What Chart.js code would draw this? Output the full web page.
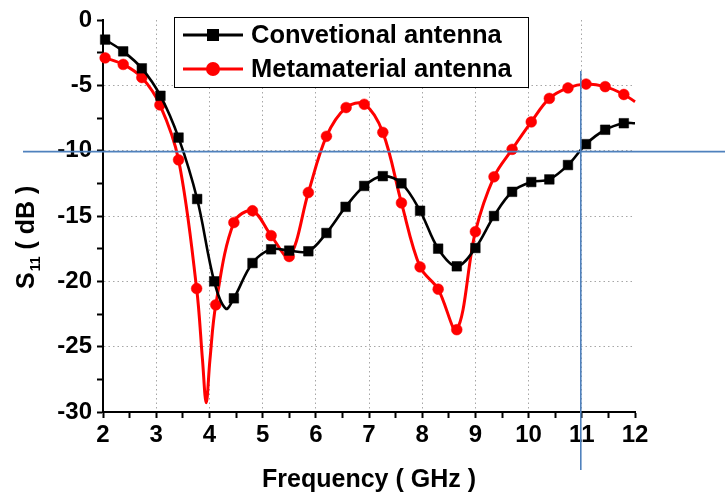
<!DOCTYPE html>
<html>
<head>
<meta charset="utf-8">
<script src="https://cdn.jsdelivr.net/npm/chart.js@4/dist/chart.umd.min.js"></script>
<style>
  html, body { margin: 0; padding: 0; background: #fff; }
  #wrap { width: 725px; height: 497px; }
</style>
</head>
<body>
<div id="wrap"><canvas id="c" width="725" height="497"></canvas></div>
<script>
// Return loss of the two antennas, S11 in dB versus frequency in GHz.
// Sampled points (drawn with markers)
const convFreq = [2.04, 2.38, 2.73, 3.08, 3.42, 3.77, 4.09, 4.46, 4.81, 5.16, 5.50, 5.86, 6.20, 6.56, 6.91,
                  7.26, 7.61, 7.96, 8.30, 8.65, 9.00, 9.35, 9.69, 10.05, 10.39, 10.74, 11.08, 11.44, 11.79];
const convS11  = [-1.5, -2.4, -3.7, -5.8, -9.0, -13.7, -20.0, -21.3, -18.6, -17.55, -17.65, -17.7, -16.3, -14.3, -12.7,
                  -11.95, -12.5, -14.6, -17.5, -18.85, -17.45, -15.0, -13.15, -12.4, -12.2, -11.1, -9.5, -8.4, -7.9];
// Intermediate points of the trace (no marker)
const convCurveFreq = [4.31, 12.0];
const convCurveS11  = [-22.1, -7.9];

const metaFreq = [2.04, 2.38, 2.73, 3.07, 3.42, 3.76, 4.12, 4.46, 4.81, 5.16, 5.50, 5.86, 6.20, 6.57, 6.91,
                  7.26, 7.61, 7.96, 8.30, 8.65, 9.00, 9.35, 9.69, 10.05, 10.39, 10.74, 11.08, 11.44, 11.79];
const metaS11  = [-2.9, -3.4, -4.4, -6.5, -10.7, -20.55, -21.8, -15.5, -14.6, -16.5, -18.1, -13.2, -8.9, -6.7, -6.45,
                  -8.6, -14.0, -18.9, -20.6, -23.7, -16.2, -12.0, -9.9, -7.8, -6.0, -5.2, -4.9, -5.1, -5.7];
const metaCurveFreq = [3.87, 3.94, 4.01, 12.0];
const metaCurveS11  = [-26.0, -29.3, -26.0, -6.25];

const seriesNames = ['Convetional antenna', 'Metamaterial antenna'];
const xTickValues = [2, 3, 4, 5, 6, 7, 8, 9, 10, 11, 12];
const yTickValues = [0, -5, -10, -15, -20, -25, -30];
const thresholdDb = -10;
const markerFreq = 11;

const FONT = "'Liberation Sans', Arial, Helvetica, sans-serif";
const BLUE = 'rgb(79,129,189)';

function trace(freq, s11, curveFreq, curveS11) {
  const pts = freq.map((f, i) => ({ x: f, y: s11[i], m: true }));
  curveFreq.forEach((f, i) => pts.push({ x: f, y: curveS11[i], m: false }));
  pts.sort((a, b) => a.x - b.x);
  return pts;
}

const near = (v, list) => list.some(t => Math.abs(t - v) < 1e-6);

const decorations = {
  id: 'decorations',
  afterDraw(chart) {
    const { ctx, chartArea: ca, scales: { x, y } } = chart;
    ctx.save();

    // -10 dB and 11 GHz guide lines
    ctx.strokeStyle = BLUE;
    ctx.lineWidth = 1.6;
    const yb = y.getPixelForValue(thresholdDb) + 1;
    ctx.beginPath(); ctx.moveTo(23, yb); ctx.lineTo(725, yb); ctx.stroke();
    const xb = x.getPixelForValue(markerFreq) - 1;
    ctx.beginPath(); ctx.moveTo(xb, y.getPixelForValue(-3.9)); ctx.lineTo(xb, ca.bottom + 58); ctx.stroke();

    // legend
    const lx = 174, ly = 17, lw = 354, lh = 70;
    ctx.fillStyle = '#fff';
    ctx.fillRect(lx, ly, lw, lh);
    ctx.strokeStyle = '#000';
    ctx.lineWidth = 1;
    ctx.strokeRect(lx + 0.5, ly + 0.5, lw, lh);
    chart.data.datasets.forEach((ds, i) => {
      const cy = ly + 18 + i * 34;
      ctx.strokeStyle = ds.borderColor;
      ctx.lineWidth = 2.8;
      ctx.beginPath(); ctx.moveTo(lx + 9, cy); ctx.lineTo(lx + 69, cy); ctx.stroke();
      ctx.fillStyle = ds.borderColor;
      if (ds.pointStyle === 'rect') {
        ctx.fillRect(lx + 39 - 6, cy - 6, 12, 12);
      } else {
        ctx.beginPath(); ctx.arc(lx + 39, cy, 7, 0, Math.PI * 2); ctx.fill();
      }
      ctx.fillStyle = '#000';
      ctx.font = 'bold 25.5px ' + FONT;
      ctx.textAlign = 'left';
      ctx.textBaseline = 'middle';
      ctx.fillText(ds.label, lx + 77, cy + 1);
    });

    // axis titles
    ctx.fillStyle = '#000';
    ctx.textBaseline = 'alphabetic';
    ctx.textAlign = 'center';
    ctx.font = 'bold 25px ' + FONT;
    ctx.fillText('Frequency ( GHz )', (ca.left + ca.right) / 2, 487);

    ctx.save();
    ctx.translate(34, 289);
    ctx.rotate(-Math.PI / 2);
    ctx.textAlign = 'left';
    ctx.font = 'bold 25px ' + FONT;
    ctx.fillText('S', 0, 0);
    let w = ctx.measureText('S').width + 1;
    ctx.font = 'bold 14px ' + FONT;
    ctx.fillText('11', w, 6);
    w += ctx.measureText('11').width;
    ctx.font = 'bold 25px ' + FONT;
    ctx.fillText(' ( dB )', w, 0);
    ctx.restore();

    ctx.restore();
  }
};

const tickFont = { family: FONT, size: 24, weight: 'bold' };
const GRID = '#a6a6a6';
const CLEAR = 'rgba(0,0,0,0)';

new Chart(document.getElementById('c'), {
  type: 'line',
  data: {
    datasets: [
      {
        label: seriesNames[0],
        data: trace(convFreq, convS11, convCurveFreq, convCurveS11),
        borderColor: '#000000',
        backgroundColor: '#000000',
        borderWidth: 2.6,
        tension: 0.35,
        pointStyle: 'rect',
        pointRadius: c => (c.raw && c.raw.m ? 6.8 : 0),
        pointBorderWidth: 0.5,
        clip: false
      },
      {
        label: seriesNames[1],
        data: trace(metaFreq, metaS11, metaCurveFreq, metaCurveS11),
        borderColor: '#ff0000',
        backgroundColor: '#ff0000',
        borderWidth: 3,
        tension: 0.35,
        pointStyle: 'circle',
        pointRadius: c => (c.raw && c.raw.m ? 5.4 : 0),
        pointBorderWidth: 0.5,
        clip: false
      }
    ]
  },
  options: {
    responsive: false,
    animation: false,
    devicePixelRatio: 1,
    layout: { padding: { left: 0, right: 90, top: 20, bottom: 0 } },
    plugins: { legend: { display: false }, tooltip: { enabled: false } },
    scales: {
      x: {
        type: 'linear',
        min: 2, max: 12,
        afterFit(s) { s.height = 85; },
        border: { display: true, color: '#000', width: 2, dash: [1.5, 3] },
        grid: {
          color: c => (near(c.tick.value, xTickValues) && c.tick.value > 2 && c.tick.value < 12 ? GRID : CLEAR),
          lineWidth: 1,
          tickColor: '#000',
          tickWidth: 2,
          tickLength: 6
        },
        ticks: {
          stepSize: 0.5,
          autoSkip: false,
          maxRotation: 0,
          padding: 3,
          color: '#000',
          font: tickFont,
          callback: v => (near(v, xTickValues) ? String(v) : '')
        }
      },
      y: {
        min: -30, max: 0,
        afterFit(s) { s.width = 103; },
        border: { display: true, color: '#000', width: 2, dash: [1.5, 3] },
        grid: {
          color: c => (near(c.tick.value, yTickValues) && c.tick.value > -30 && c.tick.value < 0 ? GRID : CLEAR),
          lineWidth: 1,
          tickColor: '#000',
          tickWidth: 2,
          tickLength: 6
        },
        ticks: {
          stepSize: 2.5,
          autoSkip: false,
          padding: 5,
          color: '#000',
          font: tickFont,
          callback: v => (near(v, yTickValues) ? String(v) : '')
        }
      }
    }
  },
  plugins: [decorations]
});
</script>
</body>
</html>
